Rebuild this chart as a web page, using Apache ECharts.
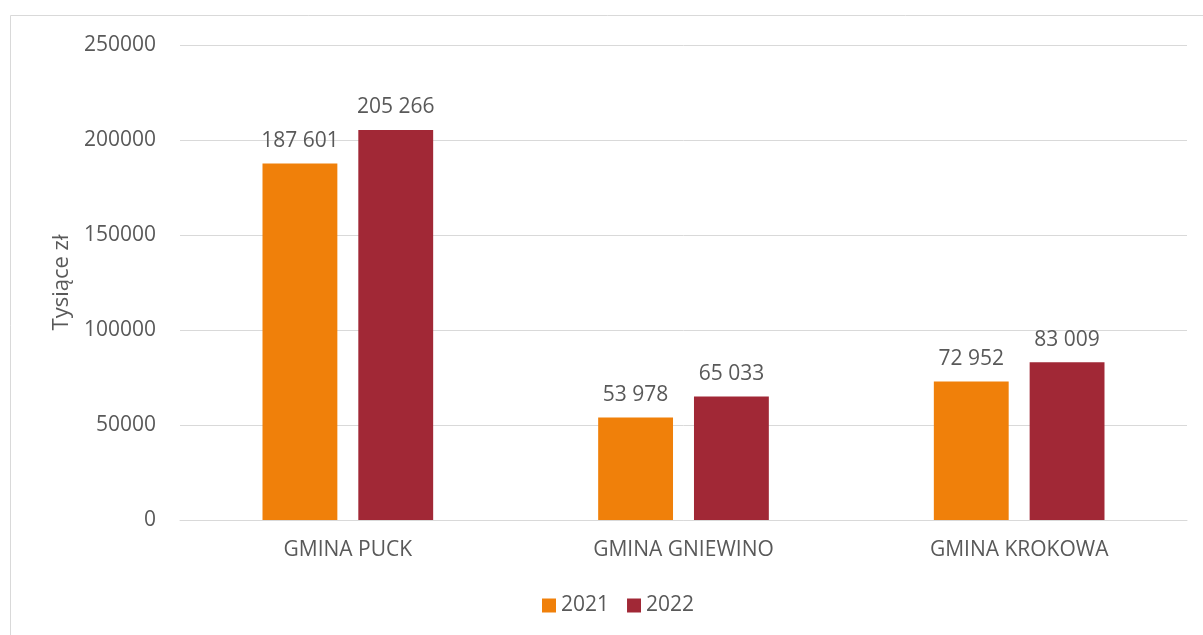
<!DOCTYPE html>
<html>
<head>
<meta charset="utf-8">
<script src="https://cdn.jsdelivr.net/npm/echarts@6/dist/echarts.min.js"></script>
<style>
  html, body { margin: 0; padding: 0; background: #fff; }
  #chart { width: 1203px; height: 635px; }
</style>
</head>
<body>
<div id="chart"></div>
<script>
// dane z wykresu
const gminy = ['GMINA PUCK', 'GMINA GNIEWINO', 'GMINA KROKOWA'];
const rok2021 = [187601, 53978, 72952];
const rok2022 = [205266, 65033, 83009];
const lata = ['2021', '2022'];

const textColor = '#595959';
const font = '"Open Sans", "Noto Sans", sans-serif';

// 187601 -> "187 601"
const fmt = (v) => String(v).replace(/\B(?=(\d{3})+(?!\d))/g, ' ');

const myChart = echarts.init(document.getElementById('chart'));

const barLabel = {
  show: true,
  position: 'top',
  distance: 12,
  color: textColor,
  fontSize: 21,
  fontFamily: font,
  formatter: (p) => fmt(p.value)
};

const options = {
  animation: false,
  textStyle: { fontFamily: font, color: textColor },
  graphic: [
    {
      type: 'rect',
      shape: { x: 10.5, y: 15.5, width: 1250, height: 700 },
      style: { fill: 'none', stroke: '#d9d9d9', lineWidth: 1 }
    }
  ],
  grid: {
    left: 180,
    right: 16,
    top: 45,
    bottom: 115
  },
  legend: {
    bottom: 14,
    left: 537,
    itemWidth: 14,
    itemHeight: 14,
    itemGap: 18,
    icon: 'rect',
    textStyle: { fontSize: 21, color: textColor, fontFamily: font },
    data: lata
  },
  xAxis: {
    type: 'category',
    data: gminy,
    axisLine: { lineStyle: { color: '#d9d9d9' } },
    axisTick: { show: false },
    axisLabel: { color: textColor, fontSize: 21, margin: 20, fontFamily: font }
  },
  yAxis: {
    type: 'value',
    min: 0,
    max: 250000,
    interval: 50000,
    name: 'Tysiące zł',
    nameLocation: 'middle',
    nameGap: 106,
    nameTextStyle: { fontSize: 22, color: textColor, fontFamily: font },
    axisLine: { show: false },
    axisTick: { show: false },
    axisLabel: { color: textColor, fontSize: 21, margin: 24, fontFamily: font, formatter: (v) => String(v) },
    splitLine: { lineStyle: { color: '#d9d9d9' } }
  },
  series: [
    {
      name: lata[0],
      type: 'bar',
      data: rok2021,
      barWidth: '22.3%',
      barGap: '28%',
      itemStyle: { color: '#F0800A' },
      label: barLabel
    },
    {
      name: lata[1],
      type: 'bar',
      data: rok2022,
      barWidth: '22.3%',
      barGap: '28%',
      itemStyle: { color: '#A12836' },
      label: barLabel
    }
  ]
};

myChart.setOption(options);
</script>
</body>
</html>
